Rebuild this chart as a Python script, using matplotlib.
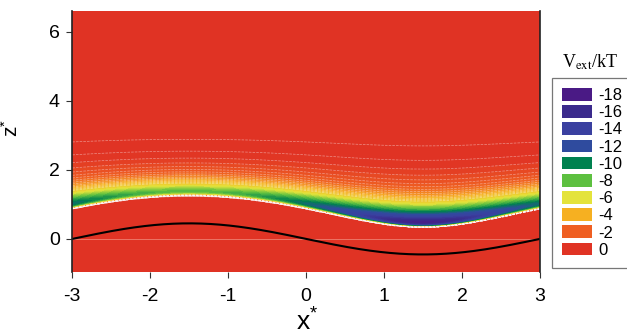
import numpy as np
import matplotlib
matplotlib.use("Agg")
import matplotlib.pyplot as plt
from matplotlib.colors import LinearSegmentedColormap
from matplotlib.patches import Patch

# ---------- data ----------
LEVEL_VALUES = [-18, -16, -14, -12, -10, -8, -6, -4, -2, 0]
LEVEL_LABELS = ["-18", "-16", "-14", "-12", "-10", "-8", "-6", "-4", "-2", "0"]
LEVEL_COLORS = ["#4a1a85", "#3b2a8c", "#3a40a0", "#2f4b9e", "#00814f",
                "#5dc040", "#e4e33b", "#f6b021", "#ef5f22", "#e03324"]

X_TICKS = [-3, -2, -1, 0, 1, 2, 3]
Z_TICKS = [0, 2, 4, 6]

SURF_AMP = 0.45          # amplitude of the wavy wall (black line)
SURF_PERIOD = 6.0
SIGMA = 1.08             # Lennard-Jones size of the wall atoms
DEPTH_VALLEY = -18.5     # deepest value, above the trough at x* = 1.5
DEPTH_SWING = 0.09       # extra deepening toward the trough

# ---------- wall potential: LJ summed over the wavy solid (FFT convolution) ----------
step = 0.02
xg = np.arange(-3, 3, step)
zg = np.arange(-4.0, 6.62, step)
nx, nz = len(xg), len(zg)
hg = -SURF_AMP * np.sin(2 * np.pi * xg / SURF_PERIOD)
solid = np.clip((hg[None, :] - zg[:, None]) / step + 0.5, 0, 1)

ox = (np.arange(nx) + nx // 2) % nx - nx // 2
oz = np.arange(2 * nz)
oz = np.where(oz < nz, oz, oz - 2 * nz)
OX, OZ = np.meshgrid(ox * step, oz * step)
rho = np.maximum(np.hypot(OX, OZ), 0.6 * SIGMA)
kern = (63 * np.pi / 256) * (SIGMA / rho) ** 11 - (3 * np.pi / 8) * (SIGMA / rho) ** 5

pad = np.zeros((2 * nz, nx))
pad[:nz] = solid
V = np.fft.ifft2(np.fft.fft2(pad) * np.fft.fft2(kern)).real[:nz]
V[solid > 0.5] = 50.0

x = np.append(xg, 3.0)
V = np.hstack([V, V[:, :1]])
X, Z = np.meshgrid(x, zg)
V = np.where(V < 0, V * (1 + DEPTH_SWING * np.sin(2 * np.pi * X / SURF_PERIOD)), V)
V = np.where(V < 0, V * DEPTH_VALLEY / V[V < 0].min(), V)
V = np.minimum(V, 50.0)

# ---------- colours ----------
cmap = LinearSegmentedColormap.from_list("vext", LEVEL_COLORS)
cmap.set_under(LEVEL_COLORS[0])
cmap.set_over(LEVEL_COLORS[-1])
levels = np.arange(-19.8, -0.59, 0.4)

plt.rcParams["font.family"] = ["Liberation Sans", "DejaVu Sans"]
plt.rcParams["axes.unicode_minus"] = False
plt.rcParams["mathtext.fontset"] = "stix"
plt.rcParams["mathtext.default"] = "regular"

fig = plt.figure(figsize=(6.27, 3.34), dpi=100)
ax = fig.add_axes([72.3 / 627, 1 - 271.7 / 334, (540 - 72.3) / 627, (271.7 - 11) / 334])

ax.contourf(X, Z, V, levels=levels, cmap=cmap, vmin=-19.2, vmax=-1.0, extend="both")
ax.contour(X, Z, V, levels=np.arange(-6.2, -0.5, 0.4), colors="white",
           linewidths=0.5, alpha=0.45)
ax.axhline(0, color="#f4a090", lw=0.6, alpha=0.7)
xs = np.linspace(-3, 3, 400)
ax.plot(xs, -SURF_AMP * np.sin(2 * np.pi * xs / SURF_PERIOD), color="black", lw=1.5)

ax.set_xlim(-3, 3)
ax.set_ylim(-0.95, 6.6)
ax.set_xticks(X_TICKS)
ax.set_xticklabels([str(t) for t in X_TICKS])
ax.set_yticks(Z_TICKS)
ax.spines["top"].set_visible(False)
ax.spines["bottom"].set_visible(False)
ax.spines["left"].set_color("#222222")
ax.spines["right"].set_color("#222222")
ax.spines["left"].set_linewidth(1.2)
ax.spines["right"].set_linewidth(1.2)
ax.tick_params(axis="x", direction="out", length=4.5, width=0.8, pad=7,
               labelsize=14, color="#333333")
ax.tick_params(axis="y", direction="out", length=4, width=0.8, pad=5,
               labelsize=14, color="#333333")

ax.set_xlabel("x$^{*}$", fontsize=19)
ax.xaxis.set_label_coords(0.502, -0.14)
ax.set_ylabel("z$^{*}$", fontsize=15)
ax.yaxis.set_label_coords(-0.108, 0.55)

# legend
fig.text(590 / 627, 1 - 62 / 334, r"V$_{\rm ext}$/kT", family="Liberation Serif",
         fontsize=13, ha="center", va="center")
handles = [Patch(facecolor=c, edgecolor="none") for c in LEVEL_COLORS]
leg = fig.legend(handles, LEVEL_LABELS, loc="upper left",
                 bbox_to_anchor=(552 / 627, 1 - 78 / 334), frameon=True,
                 fancybox=False, edgecolor="#555555", fontsize=12,
                 handlelength=1.8, handleheight=0.8, labelspacing=0.12,
                 handletextpad=0.4, borderpad=0.6, borderaxespad=0)
leg.get_frame().set_linewidth(0.9)

fig.savefig("out.png", dpi=100)
